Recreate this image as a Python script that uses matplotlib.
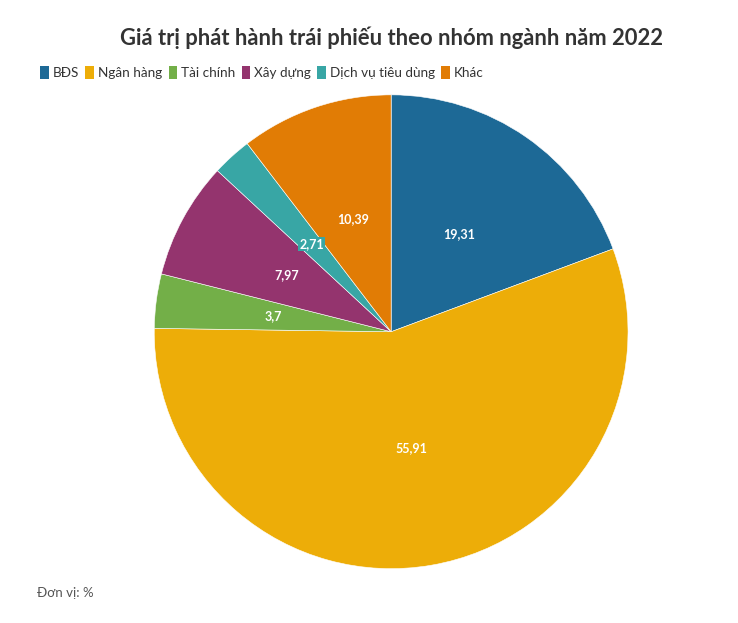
import matplotlib.pyplot as plt
from matplotlib.patches import Patch

plt.rcParams['font.family'] = ['Lato', 'Noto Sans', 'DejaVu Sans']

# data
categories = ['BĐS', 'Ngân hàng', 'Tài chính', 'Xây dựng', 'Dịch vụ tiêu dùng', 'Khác']
values = [19.31, 55.91, 3.7, 7.97, 2.71, 10.39]
labels = ['19,31', '55,91', '3,7', '7,97', '2,71', '10,39']
colors = ['#1d6996', '#edad08', '#73af48', '#94346e', '#38a6a5', '#e17c05']

fig = plt.figure(figsize=(7.38, 6.23), dpi=100)
ax = fig.add_axes([0.209, 0.087, 0.642, 0.761])

wedges, texts = ax.pie(values, colors=colors, startangle=90, counterclock=False,
                       labels=labels, labeldistance=0.5,
                       wedgeprops=dict(edgecolor='white', linewidth=0.4))
for t, c in zip(texts, colors):
    t.set_color('white')
    t.set_fontweight('bold')
    t.set_fontsize(9)
    t.set_ha('center')
    t.set_va('center')
    t.set_bbox(dict(facecolor=c, edgecolor='none', pad=1.0))
ax.set_xlim(-1, 1)
ax.set_ylim(-1, 1)
ax.set_aspect('equal')

fig.text(0.530, 0.94, 'Giá trị phát hành trái phiếu theo nhóm ngành năm 2022',
         ha='center', va='center', fontsize=15.8, fontweight='bold', color='#333333')

handles = [Patch(facecolor=c, edgecolor='none') for c in colors]
fig.legend(handles, categories, loc='center left', bbox_to_anchor=(0.038, 0.884),
           ncol=6, frameon=False, fontsize=9.7, handlelength=0.65, handleheight=1.1,
           handletextpad=0.3, columnspacing=0.45, labelcolor='#333333')

fig.text(0.05, 0.048, 'Đơn vị: %', ha='left', va='center', fontsize=9.5, color='#555555')

plt.savefig('out.png', dpi=100)
